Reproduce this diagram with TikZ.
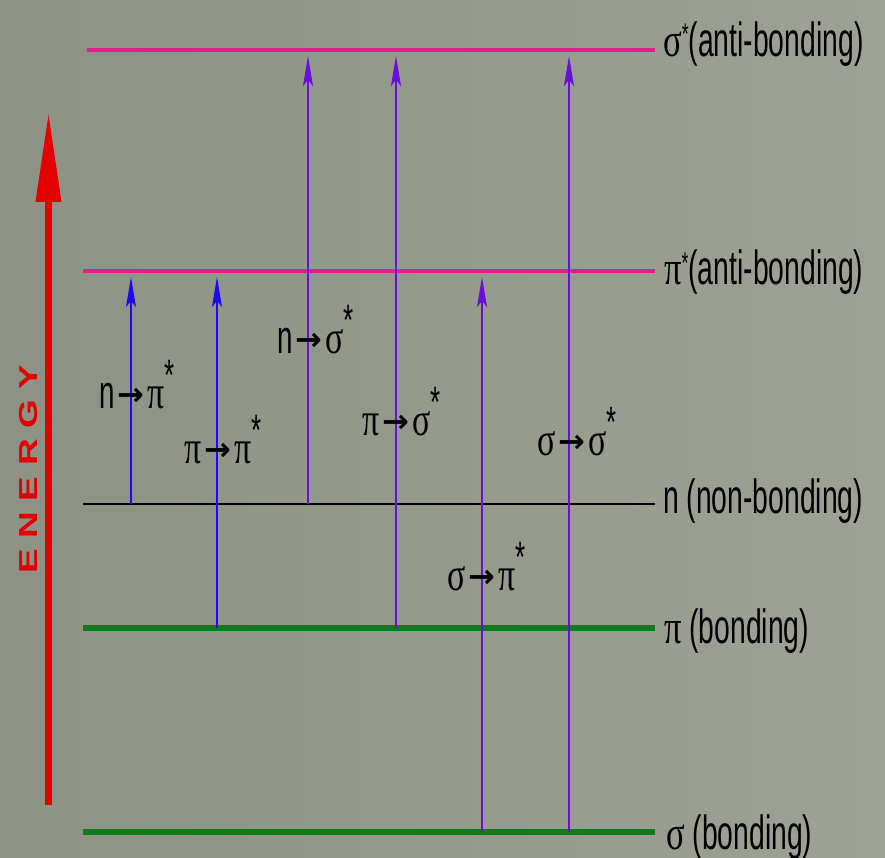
\documentclass[tikz,border=0pt]{standalone}
\usepackage{fontspec}
\usetikzlibrary{arrows.meta}
\setmainfont{Liberation Sans}
\newfontfamily\labfont[FakeStretch=0.59]{Liberation Sans}
\newfontfamily\grkfont[FakeStretch=0.72]{Liberation Serif}
\newfontfamily\arrfont{DejaVu Sans}
\newfontfamily\enfont[LetterSpace=29]{Liberation Sans}
\definecolor{bgL}{RGB}{140,146,132}
\definecolor{bgR}{RGB}{158,162,150}
\definecolor{mag}{RGB}{225,30,140}
\definecolor{grn}{RGB}{16,122,30}
\definecolor{blu}{RGB}{30,10,240}
\definecolor{vio}{RGB}{105,15,215}
\definecolor{enred}{RGB}{228,0,0}
\newcommand\rstar{\raisebox{12pt}{\fontsize{30}{30}\selectfont *}}
\newcommand\tstar{\raisebox{18pt}{\fontsize{44}{44}\selectfont *}}
\newcommand\tarr{\hspace{3pt}\raisebox{3pt}{\arrfont\bfseries\fontsize{32}{32}\selectfont →}\hspace{3pt}}
\newcommand\gs{{\grkfont σ}}
\newcommand\gp{{\grkfont π}}
\begin{document}
\begin{tikzpicture}[x=1pt,y=-1pt,
  antib/.style={draw=mag,line width=3.5pt},
  nonb/.style={draw=black,line width=2.5pt},
  bond/.style={draw=grn,line width=5.5pt},
  trb/.style={draw=blu,line width=1.8pt,-{Stealth[length=30pt,width=10pt,inset=6pt]}},
  trv/.style={draw=vio,line width=1.8pt,-{Stealth[length=30pt,width=10pt,inset=6pt]}},
  lab/.style={inner sep=0pt,anchor=base west,font=\labfont\fontsize{48}{48}\selectfont},
  tlab/.style={inner sep=0pt,anchor=base west,font=\labfont\fontsize{47}{47}\selectfont}]
\shade[left color=bgL,right color=bgR] (0,0) rectangle (885,858);
\useasboundingbox (0,0) rectangle (885,858);
% levels
\coordinate (ssL) at (87,50);  \coordinate (ssR) at (655,50);
\coordinate (psL) at (83,271); \coordinate (psR) at (655,271);
\coordinate (nL)  at (83,504); \coordinate (nR)  at (655,504);
\coordinate (pL)  at (83,628); \coordinate (pR)  at (655,628);
\coordinate (sL)  at (83,832); \coordinate (sR)  at (655,832);
\draw[antib] (ssL) -- (ssR);
\draw[antib] (psL) -- (psR);
\draw[nonb] (nL) -- (nR);
\draw[bond] (pL) -- (pR);
\draw[bond] (sL) -- (sR);
% energy arrow
\coordinate (eB) at (48.5,805);
\coordinate (eT) at (48.5,112);
\draw[enred,line width=7pt,-{Triangle[length=90pt,width=24pt]}] (eB) -- (eT);
\node[rotate=90,anchor=base west,inner sep=0pt,text=enred] (energy) at (37,574) {\scalebox{1.42}[1]{\enfont\bfseries\fontsize{26}{26}\selectfont ENERGY}};
% transitions
\coordinate (t1a) at (131,504); \coordinate (t1b) at (131,277);
\coordinate (t2a) at (217,628); \coordinate (t2b) at (217,277);
\coordinate (t3a) at (308,504); \coordinate (t3b) at (308,56);
\coordinate (t4a) at (396,628); \coordinate (t4b) at (396,56);
\coordinate (t5a) at (482,832); \coordinate (t5b) at (482,277);
\coordinate (t6a) at (569,832); \coordinate (t6b) at (569,56);
\draw[trb] (t1a) -- (t1b);
\draw[trb] (t2a) -- (t2b);
\draw[trv] (t3a) -- (t3b);
\draw[trv] (t4a) -- (t4b);
\draw[trv] (t5a) -- (t5b);
\draw[trv] (t6a) -- (t6b);
% transition labels
\node[tlab] (l1) at (99,408) {n\tarr\gp\tstar};
\node[tlab] (l2) at (184,463) {\gp\tarr\gp\tstar};
\node[tlab] (l3) at (277,353) {n\tarr\gs\tstar};
\node[tlab] (l4) at (362,435) {\gp\tarr\gs\tstar};
\node[tlab] (l5) at (537,455) {\gs\tarr\gs\tstar};
\node[tlab] (l6) at (447,590) {\gs\tarr\gp\tstar};
% level labels
\node[lab] (r1) at (663,57) {\gs\rstar(anti-bonding)};
\node[lab] (r2) at (664,285) {\gp\rstar(anti-bonding)};
\node[lab] (r3) at (663,513) {n (non-bonding)};
\node[lab] (r4) at (664,643) {\gp\ (bonding)};
\node[lab] (r5) at (666,849) {\gs\ (bonding)};
\end{tikzpicture}
\end{document}
